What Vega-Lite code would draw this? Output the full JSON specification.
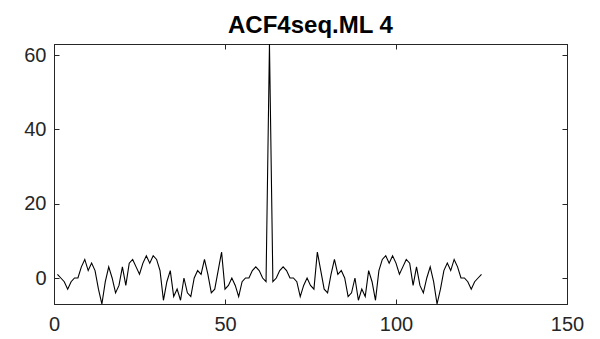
{
  "$schema": "https://vega.github.io/schema/vega-lite/v6.json",
  "width": 513,
  "height": 260,
  "autosize": {"type": "none"},
  "padding": {"left": 54, "top": 44, "right": 33, "bottom": 35},
  "background": "white",
  "title": {"text": "ACF4seq.ML 4", "font": "Liberation Sans", "fontSize": 24, "fontWeight": "bold", "color": "#000000", "anchor": "middle", "offset": 6},
  "config": {
    "view": {"stroke": "#262626", "strokeWidth": 1},
    "axis": {"grid": false, "domainColor": "#262626", "tickColor": "#262626", "labelColor": "#262626", "labelFont": "Liberation Sans", "labelFontSize": 20, "tickSize": -5, "labelFlush": false, "labelOverlap": false, "title": null}
  },
  "data": {"values": [
    {"lag":1,"acf":1},{"lag":2,"acf":0},{"lag":3,"acf":-1},{"lag":4,"acf":-3},{"lag":5,"acf":-1},{"lag":6,"acf":0},{"lag":7,"acf":0},{"lag":8,"acf":3},{"lag":9,"acf":5},{"lag":10,"acf":2},
    {"lag":11,"acf":4},{"lag":12,"acf":2},{"lag":13,"acf":-3},{"lag":14,"acf":-7},{"lag":15,"acf":-1},{"lag":16,"acf":3},{"lag":17,"acf":0},{"lag":18,"acf":-4},{"lag":19,"acf":-2},{"lag":20,"acf":3},
    {"lag":21,"acf":-2},{"lag":22,"acf":4},{"lag":23,"acf":5},{"lag":24,"acf":3},{"lag":25,"acf":1},{"lag":26,"acf":4},{"lag":27,"acf":6},{"lag":28,"acf":4},{"lag":29,"acf":6},{"lag":30,"acf":5},
    {"lag":31,"acf":2},{"lag":32,"acf":-6},{"lag":33,"acf":-1},{"lag":34,"acf":2},{"lag":35,"acf":-5},{"lag":36,"acf":-3},{"lag":37,"acf":-6},{"lag":38,"acf":0},{"lag":39,"acf":-4},{"lag":40,"acf":-5},
    {"lag":41,"acf":0},{"lag":42,"acf":2},{"lag":43,"acf":1},{"lag":44,"acf":5},{"lag":45,"acf":1},{"lag":46,"acf":-4},{"lag":47,"acf":-3},{"lag":48,"acf":2},{"lag":49,"acf":7},{"lag":50,"acf":-3},
    {"lag":51,"acf":-2},{"lag":52,"acf":0},{"lag":53,"acf":-2},{"lag":54,"acf":-5},{"lag":55,"acf":-1},{"lag":56,"acf":0},{"lag":57,"acf":0},{"lag":58,"acf":2},{"lag":59,"acf":3},{"lag":60,"acf":2},
    {"lag":61,"acf":0},{"lag":62,"acf":-1},{"lag":63,"acf":63},{"lag":64,"acf":-1},{"lag":65,"acf":0},{"lag":66,"acf":2},{"lag":67,"acf":3},{"lag":68,"acf":2},{"lag":69,"acf":0},{"lag":70,"acf":0},
    {"lag":71,"acf":-1},{"lag":72,"acf":-5},{"lag":73,"acf":-2},{"lag":74,"acf":0},{"lag":75,"acf":-2},{"lag":76,"acf":-3},{"lag":77,"acf":7},{"lag":78,"acf":2},{"lag":79,"acf":-3},{"lag":80,"acf":-4},
    {"lag":81,"acf":1},{"lag":82,"acf":5},{"lag":83,"acf":1},{"lag":84,"acf":2},{"lag":85,"acf":0},{"lag":86,"acf":-5},{"lag":87,"acf":-4},{"lag":88,"acf":0},{"lag":89,"acf":-6},{"lag":90,"acf":-3},
    {"lag":91,"acf":-5},{"lag":92,"acf":2},{"lag":93,"acf":-1},{"lag":94,"acf":-6},{"lag":95,"acf":2},{"lag":96,"acf":5},{"lag":97,"acf":6},{"lag":98,"acf":4},{"lag":99,"acf":6},{"lag":100,"acf":4},
    {"lag":101,"acf":1},{"lag":102,"acf":3},{"lag":103,"acf":5},{"lag":104,"acf":4},{"lag":105,"acf":-2},{"lag":106,"acf":3},{"lag":107,"acf":-2},{"lag":108,"acf":-4},{"lag":109,"acf":0},{"lag":110,"acf":3},
    {"lag":111,"acf":-1},{"lag":112,"acf":-7},{"lag":113,"acf":-3},{"lag":114,"acf":2},{"lag":115,"acf":4},{"lag":116,"acf":2},{"lag":117,"acf":5},{"lag":118,"acf":3},{"lag":119,"acf":0},{"lag":120,"acf":0},
    {"lag":121,"acf":-1},{"lag":122,"acf":-3},{"lag":123,"acf":-1},{"lag":124,"acf":0},{"lag":125,"acf":1}
  ]},
  "layer": [
    {
      "mark": {"type": "line", "color": "#000000", "strokeWidth": 1.1, "clip": true},
      "encoding": {
        "x": {"field": "lag", "type": "quantitative", "scale": {"domain": [0, 150], "nice": false, "zero": false}, "axis": {"values": [0, 50, 100, 150], "orient": "bottom", "labelPadding": 15}},
        "y": {"field": "acf", "type": "quantitative", "scale": {"domain": [-7, 63], "nice": false, "zero": false}, "axis": {"values": [0, 20, 40, 60], "orient": "left", "labelPadding": 13}}
      }
    },
    {
      "mark": {"type": "line", "opacity": 0},
      "encoding": {
        "x": {"field": "lag", "type": "quantitative", "scale": {"domain": [0, 150], "nice": false, "zero": false}, "axis": {"values": [0, 50, 100, 150], "orient": "top", "labels": false}},
        "y": {"field": "acf", "type": "quantitative", "scale": {"domain": [-7, 63], "nice": false, "zero": false}, "axis": {"values": [0, 20, 40, 60], "orient": "right", "labels": false}}
      }
    }
  ],
  "resolve": {"axis": {"x": "independent", "y": "independent"}}
}
